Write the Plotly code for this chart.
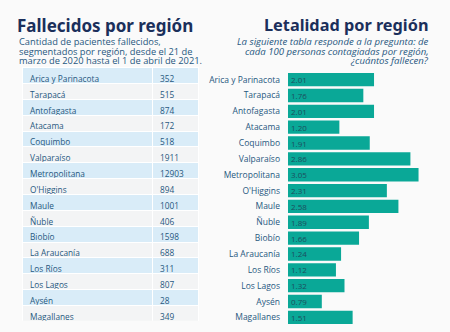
import plotly.graph_objects as go

regions = ["Arica y Parinacota", "Tarapacá", "Antofagasta", "Atacama", "Coquimbo",
           "Valparaíso", "Metropolitana", "O'Higgins", "Maule", "Ñuble", "Biobío",
           "La Araucanía", "Los Ríos", "Los Lagos", "Aysén", "Magallanes"]
deaths = [352, 515, 874, 172, 518, 1911, 12903, 894, 1001, 406, 1598, 688, 311, 807, 28, 349]
lethality = [2.01, 1.76, 2.01, 1.20, 1.91, 2.86, 3.05, 2.31, 2.58, 1.89, 1.66, 1.24, 1.12, 1.32, 0.79, 1.51]

W, H = 450, 332
top_px, bot_px = 71.7, 325.3
ydom = [1 - bot_px / H, 1 - top_px / H]
row_h = (bot_px - top_px) / len(regions)
tshift = 4
tdom = [1 - (bot_px - tshift) / H, 1 - (top_px - tshift) / H]

navy = "#1b2f5b"
txt = "#27587f"
teal = "#0aa897"
lightblue = "#d9ecf8"
lightgray = "#f3f4f5"

fills = [lightgray if i % 2 == 0 else lightblue for i in range(len(regions) - 1)]
cell_font = dict(family="Open Sans", size=8.3, color=txt)

fig = go.Figure()

fig.add_trace(go.Table(
    domain=dict(x=[22 / W, 198 / W], y=tdom),
    columnwidth=[130, 46],
    header=dict(values=[regions[0], deaths[0]], height=row_h,
                line=dict(color="white", width=1),
                fill=dict(color=lightblue), align="left", font=cell_font),
    cells=dict(values=[regions[1:], deaths[1:]],
               fill=dict(color=[fills, fills]),
               line=dict(color="white", width=1),
               align="left",
               height=row_h,
               font=cell_font),
))

fig.add_trace(go.Bar(
    x=lethality, y=regions, orientation="h",
    marker=dict(color=teal, line=dict(width=0)),
    texttemplate="%{x:.2f}", textposition="inside", insidetextanchor="start",
    constraintext="none",
    textfont=dict(family="Open Sans", size=8, color="#1d4e5e"),
    hoverinfo="skip", cliponaxis=False,
))

fig.update_layout(
    width=W, height=H,
    margin=dict(l=0, r=0, t=0, b=0),
    paper_bgcolor="#fafafa", plot_bgcolor="rgba(0,0,0,0)",
    showlegend=False, bargap=0.16,
    xaxis=dict(domain=[288 / W, 1], range=[0, 162 / 42.8], visible=False),
    yaxis=dict(domain=ydom, autorange="reversed", showgrid=False, showline=False,
               ticks="", ticklabelstandoff=7,
               tickfont=dict(family="Open Sans", size=8.5, color=txt)),
)

def ann(text, x, y, xanchor, font):
    fig.add_annotation(xref="paper", yref="paper", x=x / W, y=1 - y / H,
                       yanchor="middle", xanchor=xanchor, showarrow=False,
                       borderpad=0, text=text, font=font)

ann("<b>Fallecidos por región</b>", 16, 25, "left", dict(family="Noto Sans", size=17, color=navy))
ann("<b>Letalidad por región</b>", 430, 25, "right", dict(family="Noto Sans", size=16.3, color=navy))

left_sub = ["Cantidad de pacientes fallecidos,",
            "segmentados por región, desde el 21 de",
            "marzo de 2020 hasta el 1 de abril de 2021."]
right_sub = ["La siguiente tabla responde a la pregunta: de",
             "cada 100 personas contagiadas por región,",
             "¿cuántos fallecen?"]
for i, line in enumerate(left_sub):
    ann(line, 18, 41.7 + 9.3 * i, "left", dict(family="Open Sans", size=9.3, color=txt))
for i, line in enumerate(right_sub):
    ann("<i>" + line + "</i>", 430, 41.7 + 9.3 * i, "right", dict(family="Open Sans", size=9.6, color=txt))

fig.write_html("out.html")
